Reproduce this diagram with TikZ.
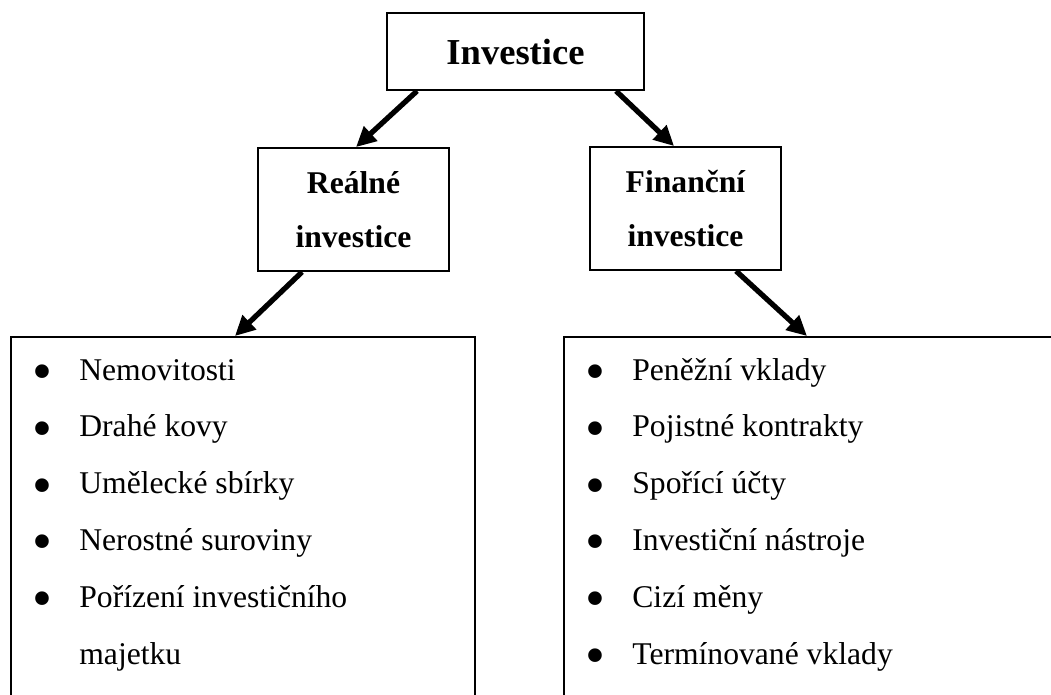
\documentclass[tikz,border=0pt]{standalone}
\usepackage{fontspec}
\setmainfont{Liberation Serif}
\usepackage{array}
\usetikzlibrary{arrows.meta, positioning}

\newcommand{\itemlist}[1]{{\fontsize{18}{32.4}\selectfont\begin{tabular}[t]{@{}p{0.94cm}@{}l@{}}#1\end{tabular}}}
\newcommand{\bul}{\raisebox{-0.32em}{\scalebox{1.8}{\textbullet}}}

\begin{document}
\begin{tikzpicture}[
    box/.style={rectangle, draw, line width=1.1pt, inner sep=0pt, align=center},
    headbox/.style={box, minimum width=5.14cm, minimum height=1.54cm, font=\fontsize{20.8}{25}\selectfont\bfseries},
    typebox/.style={box, minimum width=3.82cm, minimum height=2.46cm, font=\fontsize{18}{30.7}\selectfont\bfseries},
    listbox/.style={box, anchor=north west, minimum height=8cm},
    list/.style={anchor=base west, inner sep=0pt},
    arrow/.style={-{Triangle[length=0.4cm, width=0.38cm]}, line width=3pt}
]
\useasboundingbox (0,0) rectangle (21.02,-13.88);
\clip (0,0) rectangle (21.02,-13.88);

\node[headbox] (inv) at (10.31,-1.03) {Investice};
\node[typebox] (real) at (7.07,-4.19) {Reálné\\investice};
\node[typebox] (fin) at (13.71,-4.17) {Finanční\\investice};
\node[listbox, minimum width=9.28cm] (realbox) at (0.2,-6.72) {};
\node[listbox, minimum width=10.6cm] (finbox) at (11.26,-6.72) {};

\node[list] (reallist) at ([xshift=0.44cm, yshift=-0.88cm]realbox.north west) {\itemlist{
    \bul & Nemovitosti\\
    \bul & Drahé kovy\\
    \bul & Umělecké sbírky\\
    \bul & Nerostné suroviny\\
    \bul & Pořízení investičního\\
         & majetku}};
\node[list] (finlist) at ([xshift=0.44cm, yshift=-0.88cm]finbox.north west) {\itemlist{
    \bul & Peněžní vklady\\
    \bul & Pojistné kontrakty\\
    \bul & Spořící účty\\
    \bul & Investiční nástroje\\
    \bul & Cizí měny\\
    \bul & Termínované vklady}};

\draw[arrow] ([xshift=0.62cm]inv.south west) -- ([xshift=1.98cm]real.north west);
\draw[arrow] ([xshift=4.6cm]inv.south west) -- ([xshift=1.7cm]fin.north west);
\draw[arrow] ([xshift=0.9cm]real.south west) -- ([xshift=4.5cm]realbox.north west);
\draw[arrow] ([xshift=2.94cm]fin.south west) -- ([xshift=4.88cm]finbox.north west);
\end{tikzpicture}
\end{document}
